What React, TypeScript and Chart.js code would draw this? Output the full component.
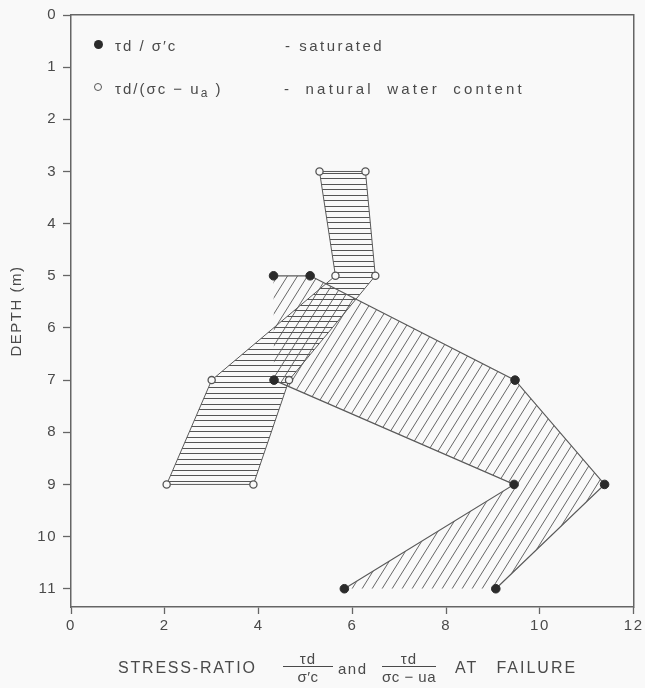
import React, { useEffect, useRef } from "react";
import { Chart, registerables } from "chart.js";

Chart.register(...registerables);

// ---- data ----
const naturalDepths = [3, 5, 7, 9];
const naturalLow = [5.3, 5.64, 3.0, 2.04];
const naturalHigh = [6.28, 6.49, 4.65, 3.89];

const saturatedDepths = [5, 7, 9, 11];
const saturatedLow = [4.32, 4.33, 9.45, 5.83];
const saturatedHigh = [5.1, 9.47, 11.38, 9.06];

const xMin = 0;
const xMax = 12;
const xStep = 2;
const depthMin = 0;
const depthMax = 11.35;
const depthStep = 1;

const INK = "#4a4a4a";
const LINE = "#5a5a5a";
const BG = "#f9f9f9";
const FONT = "'Liberation Sans', 'DejaVu Sans', sans-serif";

function makeHatch(kind: "h" | "d", color: string): CanvasPattern | string {
  const c = document.createElement("canvas");
  const ctx = c.getContext("2d");
  if (!ctx) return color;
  if (kind === "h") {
    c.width = 8;
    c.height = 11;
    ctx.strokeStyle = color;
    ctx.lineWidth = 1;
    ctx.beginPath();
    ctx.moveTo(0, 2.5);
    ctx.lineTo(8, 2.5);
    ctx.moveTo(0, 8.5);
    ctx.lineTo(8, 8.5);
  } else {
    const w = 10;
    const h = 16;
    c.width = w;
    c.height = h;
    ctx.strokeStyle = color;
    ctx.lineWidth = 1;
    ctx.beginPath();
    for (const dx of [-w, 0, w]) {
      ctx.moveTo(dx - w, 2 * h);
      ctx.lineTo(dx + 2 * w, -h);
    }
  }
  ctx.stroke();
  return ctx.createPattern(c, "repeat") || color;
}

const pts = (xs: number[], ys: number[]) => xs.map((x, i) => ({ x, y: ys[i] }));

export default function App() {
  const ref = useRef<HTMLCanvasElement | null>(null);

  useEffect(() => {
    if (!ref.current) return;
    const hPat = makeHatch("h", "#555");
    const dPat = makeHatch("d", "#666");

    const openPoint = {
      pointRadius: 3.6,
      pointHoverRadius: 3.6,
      pointBackgroundColor: BG,
      pointBorderColor: "#555",
      pointBorderWidth: 1.3,
    };
    const filledPoint = {
      pointRadius: 4.3,
      pointHoverRadius: 4.3,
      pointBackgroundColor: "#2b2b2b",
      pointBorderColor: "#2b2b2b",
      pointBorderWidth: 1,
    };
    const noPoint = { pointRadius: 0, pointHoverRadius: 0 };

    const spacing = {
      id: "spacing",
      beforeDraw(chart: any) {
        chart.ctx.letterSpacing = "1.5px";
      },
    };

    const chart = new Chart(ref.current, {
      type: "line",
      data: {
        datasets: [
          {
            label: "natural low",
            data: pts(naturalLow, naturalDepths),
            fill: "+1",
            backgroundColor: hPat as any,
            borderColor: LINE,
            borderWidth: 1,
            ...openPoint,
          },
          {
            label: "natural high",
            data: pts(naturalHigh, naturalDepths),
            fill: false,
            borderColor: LINE,
            borderWidth: 1,
            ...openPoint,
          },
          {
            label: "saturated low",
            data: pts(saturatedLow, saturatedDepths),
            fill: "+1",
            backgroundColor: dPat as any,
            borderColor: LINE,
            borderWidth: 1.2,
            segment: {
              borderColor: (c: any) => (c.p0DataIndex === 0 ? "rgba(0,0,0,0)" : undefined),
            },
            ...filledPoint,
          },
          {
            label: "saturated high",
            data: pts(saturatedHigh, saturatedDepths),
            fill: false,
            borderColor: LINE,
            borderWidth: 1.2,
            ...filledPoint,
          },
          {
            label: "saturated cap",
            data: [
              { x: saturatedLow[0], y: saturatedDepths[0] },
              { x: saturatedHigh[0], y: saturatedDepths[0] },
            ],
            fill: false,
            borderColor: LINE,
            borderWidth: 1.2,
            ...noPoint,
          },
          {
            label: "natural top",
            data: [
              { x: naturalLow[0], y: naturalDepths[0] },
              { x: naturalHigh[0], y: naturalDepths[0] },
            ],
            fill: false,
            borderColor: LINE,
            borderWidth: 1,
            ...noPoint,
          },
          {
            label: "natural bottom",
            data: [
              { x: naturalLow[3], y: naturalDepths[3] },
              { x: naturalHigh[3], y: naturalDepths[3] },
            ],
            fill: false,
            borderColor: LINE,
            borderWidth: 1,
            ...noPoint,
          },
        ],
      },
      options: {
        responsive: false,
        devicePixelRatio: 1,
        animation: false,
        indexAxis: "y",
        layout: { padding: { top: 14, right: 9, left: 0, bottom: 0 } },
        plugins: {
          legend: { display: false },
          tooltip: { enabled: false },
          filler: { drawTime: "beforeDatasetsDraw" } as any,
        },
        scales: {
          x: {
            type: "linear",
            position: "bottom",
            min: xMin,
            max: xMax,
            ticks: {
              stepSize: xStep,
              color: INK,
              font: { family: FONT, size: 15 },
              padding: 3,
            },
            grid: {
              drawOnChartArea: false,
              drawTicks: true,
              tickLength: 7,
              tickWidth: 1.3,
              color: "#666",
            },
            border: { display: true, color: "#666", width: 1.5 },
            afterFit: (s: any) => {
              s.height = 81;
            },
          },
          y: {
            type: "linear",
            position: "left",
            reverse: true,
            min: depthMin,
            max: depthMax,
            ticks: {
              stepSize: depthStep,
              includeBounds: false,
              color: INK,
              font: { family: FONT, size: 15 },
              padding: 6,
            } as any,
            afterBuildTicks: (s: any) => {
              s.ticks = s.ticks.filter((t: any) => Number.isInteger(t.value));
            },
            grid: {
              drawOnChartArea: false,
              drawTicks: true,
              tickLength: 8,
              tickWidth: 1.3,
              color: "#666",
            },
            border: { display: true, color: "#666", width: 1.5 },
            title: {
              display: true,
              text: "DEPTH (m)",
              color: INK,
              font: { family: FONT, size: 15 },
              padding: { top: 8, bottom: 0 },
            },
            afterFit: (s: any) => {
              s.width = 71;
            },
          },
          xTop: {
            type: "linear",
            position: "top",
            ticks: { display: false },
            grid: { drawOnChartArea: false, drawTicks: false },
            border: { display: true, color: "#666", width: 1.5 },
            afterFit: (s: any) => {
              s.height = 0;
            },
          },
          yRight: {
            type: "linear",
            position: "right",
            ticks: { display: false },
            grid: { drawOnChartArea: false, drawTicks: false },
            border: { display: true, color: "#666", width: 1.5 },
            afterFit: (s: any) => {
              s.width = 0;
            },
          },
        },
      } as any,
      plugins: [spacing],
    });
    return () => chart.destroy();
  }, []);

  const txt: React.CSSProperties = {
    position: "absolute",
    fontFamily: FONT,
    color: INK,
    fontSize: 15,
    lineHeight: 1,
    whiteSpace: "nowrap",
    transform: "translateY(-50%)",
  };

  const frac = (left: number, width: number, num: string, den: React.ReactNode) => (
    <div
      style={{
        position: "absolute",
        left,
        top: 651,
        width,
        fontFamily: FONT,
        color: INK,
        fontSize: 15,
        lineHeight: 1,
        textAlign: "center",
        letterSpacing: 1,
        whiteSpace: "nowrap",
      }}
    >
      <div style={{ height: 15 }}>{num}</div>
      <div style={{ borderTop: "1.3px solid " + INK, margin: "0 0 2px 0" }} />
      <div style={{ whiteSpace: "nowrap", letterSpacing: 0.5 }}>{den}</div>
    </div>
  );

  return (
    <div
      style={{
        position: "absolute",
        left: 0,
        top: 0,
        width: 645,
        height: 688,
        background: BG,
        overflow: "hidden",
      }}
    >
      <canvas ref={ref} width={645} height={688} style={{ display: "block" }} />

      {/* legend */}
      <div
        style={{
          position: "absolute",
          left: 94,
          top: 40,
          width: 9,
          height: 9,
          borderRadius: "50%",
          background: "#2b2b2b",
        }}
      />
      <div style={{ ...txt, left: 115, top: 45, letterSpacing: 2 }}>τd / σ′c</div>
      <div style={{ ...txt, left: 285, top: 45, letterSpacing: 2.5 }}>- saturated</div>

      <div
        style={{
          position: "absolute",
          left: 94,
          top: 83,
          width: 6,
          height: 6,
          borderRadius: "50%",
          border: "1.3px solid #555",
          background: BG,
        }}
      />
      <div style={{ ...txt, left: 115, top: 88, letterSpacing: 2 }}>
        τd/(σc − u<span style={{ fontSize: 12, position: "relative", top: 3 }}>a</span> )
      </div>
      <div style={{ ...txt, left: 284, top: 88, letterSpacing: 3.2, wordSpacing: 6 }}>
        - natural water content
      </div>

      {/* x-axis title */}
      <div style={{ ...txt, left: 118, top: 668, letterSpacing: 1.8, fontSize: 16 }}>STRESS-RATIO</div>
      {frac(283, 50, "τd", "σ′c")}
      <div style={{ ...txt, left: 338, top: 668, letterSpacing: 1.5 }}>and</div>
      {frac(382, 54, "τd", "σc − ua")}
      <div style={{ ...txt, left: 455, top: 668, letterSpacing: 2, wordSpacing: 12, fontSize: 16 }}>
        AT FAILURE
      </div>
    </div>
  );
}
